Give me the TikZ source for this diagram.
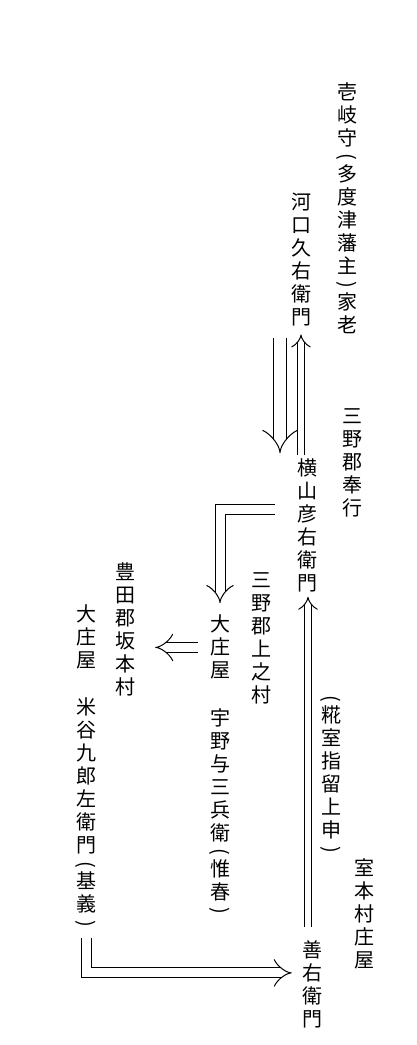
\documentclass[tikz,border=0pt]{standalone}
\usepackage{fontspec}
\usepackage{graphicx}
\newfontfamily\jpfont{Noto Sans CJK JP}
\usetikzlibrary{arrows.meta}

% vertical parentheses
\newcommand\kakL{\rotatebox[origin=c]{-90}{(}}
\newcommand\kakR{\rotatebox[origin=c]{-90}{)}}

\tikzset{
  tate/.style={font=\jpfont\fontsize{20}{23}\selectfont, align=center, inner sep=0pt, anchor=north},
  dbl/.style={double, double distance=#1, line width=1pt, line join=miter, -{Implies}},
}

\begin{document}
\begin{tikzpicture}[x=1pt,y=-1pt]
  \useasboundingbox (0,0) rectangle (417,1045);

  % names, right to left
  \node[tate] (kaza)     at (347,82)  {壱\\岐\\守\\[-5pt]\kakL\\[-5pt]多\\度\\津\\藩\\主\\[-5pt]\kakR\\[-5pt]家\\老};
  \node[tate] (kawa)     at (301,193) {河\\口\\久\\右\\衛\\門};
  \node[tate] (bugyo)    at (352,408) {三\\野\\郡\\奉\\行};
  \node[tate] (yoko)     at (307,458) {横\\山\\彦\\右\\衛\\門};
  \node[tate] (koji)     at (331,695) {\kakL\\[-5pt]糀\\室\\指\\留\\上\\申\\[-5pt]\kakR};
  \node[tate] (muro)     at (364,858) {室\\本\\村\\庄\\屋};
  \node[tate] (zen)      at (312,940) {善\\右\\衛\\門};
  \node[tate] (uwa)      at (261,572) {三\\野\\郡\\上\\之\\村};
  \node[tate] (uno1)     at (220,615) {大\\庄\\屋};
  \node[tate] (uno2)     at (220,708) {宇\\野\\与\\三\\兵\\衛\\[-5pt]\kakL\\[-5pt]惟\\春\\[-5pt]\kakR};
  \node[tate] (sakamoto) at (125,562) {豊\\田\\郡\\坂\\本\\村};
  \node[tate] (yone1)    at (86,605)  {大\\庄\\屋};
  \node[tate] (yone2)    at (86,698)  {米\\谷\\九\\郎\\左\\衛\\門\\[-5pt]\kakL\\[-5pt]基\\義\\[-5pt]\kakR};

  % double arrows
  \draw[dbl=12pt, shorten <=11pt, shorten >=5pt] ([xshift=-21pt]kawa.south) -- ([xshift=-27pt]yoko.north);
  \draw[dbl=6pt, shorten <=3pt, shorten >=8pt] ([xshift=-6pt]yoko.north) -- (kawa.south);
  \draw[dbl=9pt, shorten <=22pt, shorten >=12pt] ([yshift=15pt]yoko.west) -| (uno1.north);
  \draw[dbl=9pt, shorten <=12pt, shorten >=20pt] (uno1.west) -- (uno1.west -| sakamoto.east);
  \draw[dbl=6pt, shorten <=13pt, shorten >=5pt] ([xshift=-4pt]zen.north) -- ([xshift=1pt]yoko.south);
  \draw[dbl=9pt, shorten <=8pt, shorten >=10pt] (yone2.south) |- ([yshift=11pt]zen.west);

\end{tikzpicture}
\end{document}
